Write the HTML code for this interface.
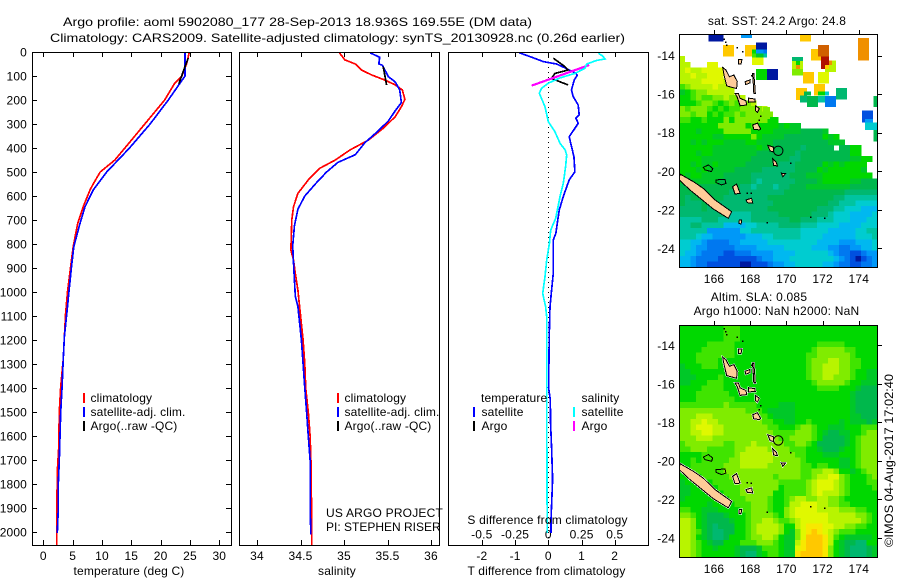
<!DOCTYPE html>
<html>
<head>
<meta charset="utf-8">
<title>Argo profile</title>
<style>
html,body{margin:0;padding:0;background:#fff;}
svg{display:block;}
text{font-family:"Liberation Sans",sans-serif;font-size:12px;fill:#000;letter-spacing:0.15px;}
.ax{fill:none;stroke:#000;stroke-width:1;shape-rendering:crispEdges;}
</style>
</head>
<body>
<svg id="chart" xmlns="http://www.w3.org/2000/svg" width="900" height="580" viewBox="0 0 900 580">
<defs>
<clipPath id="clip-map1"><rect x="679.5" y="34" width="198" height="233"/></clipPath>
<clipPath id="clip-map2"><rect x="679.5" y="325" width="198" height="232"/></clipPath>
<clipPath id="clip-p1"><rect x="32.5" y="52" width="199" height="493"/></clipPath>
<clipPath id="clip-p2"><rect x="239.5" y="52" width="200" height="493"/></clipPath>
<clipPath id="clip-p3"><rect x="448.5" y="52" width="200" height="493"/></clipPath>
</defs>

<text style="letter-spacing:0" x="63" y="26" textLength="469" lengthAdjust="spacingAndGlyphs">Argo profile: aoml 5902080_177 28-Sep-2013 18.936S 169.55E (DM data)</text>
<text style="letter-spacing:0" x="50" y="42" textLength="575" lengthAdjust="spacingAndGlyphs">Climatology: CARS2009. Satellite-adjusted climatology: synTS_20130928.nc (0.26d earlier)</text>

<g id="map1"></g>
<g id="map2"></g>
<g id="panel1"></g>
<g id="panel2"></g>
<g id="panel3"></g>

<rect class="ax" x="32.5" y="52.5" width="199" height="493"/>
<rect class="ax" x="239.5" y="52.5" width="200" height="493"/>
<rect class="ax" x="448.5" y="52.5" width="200" height="493"/>

<text x="129" y="575" text-anchor="middle">temperature (deg C)</text>
<text x="337" y="575" text-anchor="middle">salinity</text>
<text x="546.5" y="575" text-anchor="middle">T difference from climatology</text>
<text x="547.5" y="524" text-anchor="middle" style="letter-spacing:0.2px">S difference from climatology</text>

<g>
<rect x="83" y="393" width="2" height="10" fill="#f00"/>
<rect x="83" y="407" width="2" height="10" fill="#00f"/>
<rect x="83" y="421" width="2" height="10" fill="#000"/>
<text x="90.5" y="402">climatology</text>
<text x="90.5" y="416">satellite-adj. clim.</text>
<text x="90.5" y="430">Argo(..raw -QC)</text>
</g>
<g>
<rect x="337" y="393" width="2" height="10" fill="#f00"/>
<rect x="337" y="407" width="2" height="10" fill="#00f"/>
<rect x="337" y="421" width="2" height="10" fill="#000"/>
<text x="344.5" y="402">climatology</text>
<text x="344.5" y="416">satellite-adj. clim.</text>
<text x="344.5" y="430">Argo(..raw -QC)</text>
</g>
<text x="326" y="517" style="letter-spacing:0.2px">US ARGO PROJECT</text>
<text x="326" y="531" style="letter-spacing:0">PI: STEPHEN RISER</text>
<g>
<text x="481" y="402">temperature</text>
<text x="581.5" y="402">salinity</text>
<rect x="473" y="407" width="2" height="10" fill="#00f"/>
<rect x="473" y="421" width="2" height="10" fill="#000"/>
<rect x="573" y="407" width="2" height="10" fill="#0ff"/>
<rect x="573" y="421" width="2" height="10" fill="#f0f"/>
<text x="481.5" y="416">satellite</text>
<text x="481.5" y="430">Argo</text>
<text x="581.5" y="416">satellite</text>
<text x="581.5" y="430">Argo</text>
</g>

<text x="777" y="25" text-anchor="middle" style="letter-spacing:0.22px">sat. SST: 24.2 Argo: 24.8</text>
<text x="759" y="301" text-anchor="middle" style="letter-spacing:0.22px">Altim. SLA: 0.085</text>
<text x="776.5" y="315" text-anchor="middle" style="letter-spacing:0.22px">Argo h1000: NaN h2000: NaN</text>
<text style="letter-spacing:0" transform="translate(893,547) rotate(-90)" textLength="173" lengthAdjust="spacingAndGlyphs">©IMOS 04-Aug-2017 17:02:40</text>
</svg>
<script>
// ---------- profile data ----------
const tempClimDepth = [0,50,100,130,200,300,400,450,500,550,575,645,714,811,894,992,1089,1186,1283,1394,1500,1650,1750,1980,2054];
const tempClimValue = [24.9,24.4,23.6,22.4,20.7,17.3,13.9,12.2,9.7,8.5,7.96,6.8,5.86,5.1,4.67,4.16,3.8,3.6,3.4,2.96,2.73,2.62,2.39,2.28,2.28];
const tempSatDepth = [0,100,130,200,300,400,500,575,645,714,811,894,992,1089,1186,1283,1394,1500,1600,1700,1800,1900,2005];
const tempSatValue = [24.15,24.15,23.3,21.3,18.2,14.7,10.8,8.5,7.1,6.25,5.2,4.8,4.4,4.0,3.6,3.4,3.2,2.96,2.85,2.73,2.56,2.56,2.39];
const tempArgoDepth = [26,61,133];
const tempArgoValue = [24.7,24.15,23.1];

const salClimDepth = [0,5,33,50,75,96,117,137,158,197,228,269,318,367,408,450,485,533,589,645,700,825,867,922,992,1061,1200,1300,1400,1500,1600,1700,1800,1900,2054];
const salClimValue = [34.95,34.95,35.01,35.13,35.2,35.32,35.47,35.59,35.67,35.7,35.66,35.59,35.45,35.28,35.07,34.9,34.72,34.59,34.47,34.42,34.4,34.39,34.42,34.44,34.47,34.49,34.53,34.55,34.56,34.59,34.61,34.62,34.62,34.63,34.63];
const salSatDepth = [0,5,22,50,55,75,103,125,158,211,239,287,330,378,428,460,500,550,600,655,725,808,878,947,1017,1060,1200,1300,1400,1500,1600,1700,1800,1900,2010];
const salSatValue = [35.31,35.31,35.41,35.4,35.44,35.47,35.51,35.59,35.64,35.66,35.6,35.51,35.39,35.24,35.13,34.93,34.8,34.67,34.55,34.47,34.43,34.41,34.42,34.43,34.44,34.47,34.51,34.53,34.55,34.57,34.59,34.61,34.61,34.61,34.62];
const salArgoDepth = [61,137];
const salArgoValue = [35.45,35.49];

const dTSatDepth = [3,19,40,50,68,89,97,117,158,186,221,262,276,297,318,353,394,435,499,533,603,658,713,755,783,839,922,992,1061,1172,1400,1450,1550,1650,1780,1950,2005];
const dTSatValue = [-0.88,-0.55,-0.15,0.25,0.53,0.83,0.87,0.78,0.7,0.75,0.9,0.93,0.83,0.9,0.8,0.63,0.7,0.77,0.8,0.63,0.45,0.33,0.27,0.23,0.15,0.15,0.15,0.1,0.05,0.03,0.01,0.06,0.07,0.1,0.13,0.08,0.08];
const dTArgoDepth = [26,61,75,89,110,124,137];
const dTArgoValue = [0.15,0.5,0.6,0.2,0.1,0.35,0.6];
const dSSatDepth = [5,17,29,35,50,68,89,108,130,151,172,228,290,332,380,408,429,478,547,603,693,742,797,867,936,1006,1061,1103,1400,2005];
const dSSatValue = [0.376,0.41,0.426,0.364,0.289,0.276,0.2,0.088,0,-0.05,-0.068,-0.025,0,0.05,0.088,0.126,0.138,0.13,0.113,0.088,0.056,0.018,0.008,-0.012,-0.025,-0.042,-0.02,-0.012,-0.012,-0.008];
const dSArgoDepth = [54,140];
const dSArgoValue = [0.308,-0.125];

// ---------- tick labels ----------
const depthTicks = [0,100,200,300,400,500,600,700,800,900,1000,1100,1200,1300,1400,1500,1600,1700,1800,1900,2000];
const tempTicks = [0,5,10,15,20,25,30];
const salTicks = [34,34.5,35,35.5,36];
const dTTicks = [-2,-1,0,1,2];
const dSTicks = [-0.5,-0.25,0,0.25,0.5];
const lonTicks = [166,168,170,172,174];
const latTicks = [14,16,18,20,22,24];

// ---------- map data ----------
const sstPalette = {"0":"#0018a0","1":"#0050e0","2":"#0078f0","3":"#0098f8","4":"#00b8f0","5":"#00ccd0","6":"#00c4a0","7":"#00b870","8":"#00b84c","9":"#00c828","A":"#00d800","B":"#40e400","C":"#80ec00","D":"#b8f400","E":"#e0f800","F":"#f8e800","G":"#ffc800","H":"#f09000","I":"#d06000","J":"#b01000"};
const sstGrid = [
"","","","",
"D",
"DD...EE",
"DEDDEEEE",
"DDEDDEEE",
"DDDDEEEED",
"BCDDDDEDDD",
"9ABCCDDDDD",
"AABCBBCCDCCD",
"AAABCCBABCBCCD",
"CBCCCBABABBCCCCD",
"CCBCCABABBCBCCCCC",
"BBAABAAACACCCCCCAA",
"AAAAAAACCCCCABAAAA9A99",
"AAA9AAAACCCCCAAAA9999988889",
"AAAAAA99AAAAACA99998888888A9A",
"AA9A9AAA9999AA9998888888888999",
"AAAAAA99999999A9988888788888.88AA",
"AAA9AA9999999988888887888888888AA",
"AAAA99999999988888887788888888899AA",
"AA9A99A9999988888877788888A9A9AAAA",
"AAA9A99999888887777778888A9AAAAAA9",
"A9AA9999888887777777888999AAAAAAAAA",
"99999998888887677777788889AAAAA99888",
"889888888887767776778889999999988888",
"888888888777777777788888888888777777",
"878888887777777788888888888877666666",
"877787877777777778888888888776665555",
"777787777777777788888888877766555444",
"777777777666677777888888777655544445",
"666677766666677777778877766655544455",
"667766664444556666777766655554444555",
"666663333335566666666655555444445566",
"666544333333444556666655554444445556",
"554432222334444455555555544443334445",
"554332222233334444455555444332233445",
"544322221122233334444555555432211233",
"443222211111112334445555555543210123",
"443221111110011123344555554432211223"
];
// isolated SST retrievals: west lon, north lat, east lon, south lat, colour class
const sstPatches = [
[165.69,12.88,166.52,13.27,"0"],[167.49,12.88,168.10,13.07,"3"],[166.50,13.45,167.10,14.05,"G"],[167.71,13.45,168.32,14.05,"G"],
[168.32,13.31,168.93,13.67,"0"],[168.10,13.67,168.32,13.88,"A"],[168.32,13.67,168.73,13.88,"3"],[168.73,13.67,168.93,13.88,"2"],
[168.10,13.88,168.32,14.09,"B"],[168.32,13.88,168.73,14.09,"9"],[168.73,13.88,168.93,14.09,"6"],[168.10,14.09,168.73,14.48,"E"],
[168.32,14.69,168.93,15.26,"A"],[168.93,14.69,169.54,15.26,"0"],
[170.31,14.07,170.92,14.28,"7"],[170.31,14.28,170.53,14.69,"D"],[170.53,14.28,170.75,14.48,"A"],[170.75,14.28,170.92,14.69,"D"],[170.53,14.48,170.75,14.69,"H"],[170.31,14.69,170.92,15.04,"C"],
[170.92,14.85,171.52,15.45,"G"],[171.75,14.85,172.35,15.45,"E"],[170.75,12.88,171.36,13.27,"G"],[171.36,13.65,171.97,14.26,"G"],[171.75,13.45,172.35,14.05,"I"],
[172.13,14.26,172.74,14.85,"D"],[171.91,14.05,172.35,14.48,"J"],[171.91,14.48,172.13,14.69,"J"],[172.35,14.26,172.52,14.48,"H"],[172.13,14.48,172.35,14.69,"G"],
[173.96,13.08,174.56,14.26,"H"],[170.53,15.68,171.14,16.30,"G"],[170.75,16.06,171.14,16.44,"7"],[171.14,16.08,171.75,16.65,"8"],[170.97,15.87,171.36,16.08,"8"],
[171.52,15.47,172.13,16.08,"G"],[171.75,15.87,172.13,16.08,"A"],[171.75,16.08,172.13,16.44,"6"],[172.13,16.08,172.74,16.65,"2"],[172.13,15.87,172.35,16.08,"5"],
[172.74,15.68,173.35,16.27,"7"],[174.80,16.08,175.02,16.65,"8"],[174.18,16.85,174.78,17.48,"1"],[174.34,17.29,174.78,17.48,"3"],[174.34,17.48,175.02,17.86,"5"],[174.80,17.86,175.02,18.46,"8"],
[168.71,16.66,169.09,17.29,"C"]
];
const slaGrid = [
"AAAAAAAABBBAAAAAAAAAAAAAAAAAAAAAAAAA",
"AAAAAAAABBBAAAAAAAAAAAAAAAAAAAAAAAAA",
"AAAAAAAABBBAAAAAAAAAAAAAAAAAAAAAAAAA",
"AAAAABBBBBAAAAAAAAAAAAAAABBBBBAAAAAA",
"AAAABBBBBBAAAAAAAAAAAAAABCCCCCBBAAAA",
"AAABBBBBBBAAAAAAAAAAAAABBCCCCCCBAAAA",
"AAABBBBAAAAAAAAAAAAAAAABCCCDDCCBBAAA",
"9AAABBBAAAAAAAAAAAAAAAABCCDDDCCBBAAA",
"99AAAAAAAAAAAAAAAAAAAAABCCDDDCCBAA99",
"999AAAABAAAAAAAAAAAAAAABCCDDCCCBAA99",
"99AAABBBAAAAAAAAAAAAAAAABCCCCCBAA999",
"AAAABBBBAAAAAAAAAAAAAAAAABBBBAAA9888",
"AAABBBBBBAAAAAAAAAAAAAAAAAAAAAA98888",
"AAABBBBBBBAAAAAAAAAAAAAAAAAAAAA98888",
"BBBBBBBBCBBBBBAAAA999AAAAAAAAAA98888",
"CCCCCCCCCCCCBBBA99999AAAAAAAAAA98888",
"CCCDDDCCCCCCCCBBA9999AAAAAAAAAA99888",
"CCDDEDDCCCCCCCCBBAA99AABAAAAA9A99989",
"CCDEEEDDCCCCCCCCBBAAABCCBAA999AAABBB",
"CCDDEEDDCCCCCCCCCBBBBCCCBA98899AABCC",
"CCCDDDCCCCCCCCCCCCBBCCCCBA88889ABCCC",
"BCCCCCCCBBCCCDCCCCCBBCCBA888889ABCCC",
"BBCCCBBBBBCCDDDDCCCCBBBAA98889AABCCC",
"AAAABBBBBBCDDDDDDCCCCBBAAA999AAABCCC",
"AABABBBBBCCDDDDDDCCCCCBAAAAAA99ABCCC",
"AABBBBBBCCCDDDDDCCCCCCBBABBAA99ABCCC",
"AABBBBBBCCCCCCCCCCCCCCBBCCDDCAA9ABCC",
"AAAABBBBBCCCCCCCCBCCCCBBCDDEECBAAABC",
"9AAAAABBBBCCCCCCCCBBBBBCDEEEDCBAAABB",
"99AAAAABBBBCCCCCCCABBBBCDEEEDCBAAAAB",
"99AAAAAABBBCCCCCCAABBBBCDEDDDCBAAAAA",
"9AAAAAAAABBBCCCCBAABCDDCCDDCCBAAAAAA",
"AAAAA9AAAABBBCCCBAABDDEEEDDCCBBAAAAA",
"BBAA999AAAABBCCCBAACDEEEEDDDDCCCBBAA",
"CCBA98889AAABCCCCBACDEEEEEEDDDDDCCBA",
"DDCA988889AABCCDDCBBCDEEEEEDDDDDDCBA",
"DDCA987888AABCDDDDCAADEFFFEEDDCCBBAA",
"DDCB987788AABCDDDDCA9CEFGFEDCBBBAAAA",
"DDCA98778AAABCCDDCA99CEGGGFDBA99999A",
"DDCBA988AAABBBCCCBA99DFGGGFDA98877AA",
"DDCBAA9AAA98889BBBA99EFGGGFCA9877789",
"DDCBAAAAAA98779ABBA99FGGGGFCA9877789"
];
const islandsFilled = [
[[164.12,20.14],[164.08,20.45],[164.67,20.97],[165.23,21.40],[165.96,21.96],[166.79,22.44],[166.98,22.10],[166.70,21.92],[166.06,21.49],[165.41,20.89],[164.86,20.54]],
[[166.48,14.61],[166.55,15.00],[166.70,15.57],[167.25,15.71],[167.29,15.35],[167.10,15.00],[166.85,15.09],[166.66,14.74]],
[[167.16,15.95],[167.34,15.95],[167.44,16.21],[167.77,16.34],[167.80,16.56],[167.44,16.60],[167.29,16.16]],
[[167.90,16.20],[168.26,16.25],[168.28,16.40],[167.90,16.42]],
[[168.12,14.92],[168.20,14.92],[168.26,15.60],[168.28,15.95],[168.20,15.95],[168.16,15.30]],
[[168.14,17.60],[168.40,17.50],[168.58,17.80],[168.50,17.85],[168.20,17.82]],
[[167.72,15.35],[168.00,15.25],[167.98,15.42],[167.75,15.50]],
[[167.34,14.20],[167.54,14.20],[167.50,14.42],[167.36,14.42]],
[[168.97,18.65],[169.30,18.75],[169.30,19.00],[169.10,18.95]],
[[169.24,19.35],[169.45,19.55],[169.50,19.72],[169.30,19.70]],
[[169.72,20.10],[169.95,20.12],[169.80,20.28]],
[[167.03,20.80],[167.25,20.66],[167.44,21.15],[167.16,21.18]],
[[167.77,21.49],[168.08,21.40],[168.14,21.66],[167.84,21.63]],
[[167.40,22.53],[167.53,22.53],[167.50,22.74],[167.38,22.72]],
[[168.30,16.60],[168.50,16.75],[168.40,16.95],[168.28,16.85]]
];
const reefsOutline = [
[[165.41,19.80],[165.69,19.67],[165.93,19.85],[165.87,20.02],[165.50,19.93]],
[[166.11,20.45],[166.61,20.42],[166.66,20.63],[166.42,20.71],[166.11,20.59]]
];
const smallIslets = [[166.52,13.10],[166.60,13.25],[166.66,13.41],[167.25,13.55],[167.55,13.75],[170.2,19.54],[168.91,22.63],[171.3,22.34],[172.08,22.41],[168.03,21.11],[167.8,21.1],[168.55,17.1],[168.45,17.3],[168.05,15.0],[168.1,14.9]];
const argoLon = [169.55];
const argoLat = [18.936];

// ---------- helpers ----------
const NS = 'http://www.w3.org/2000/svg';
function mk(parent, tag, attrs, txt) {
  const e = document.createElementNS(NS, tag);
  for (const k in attrs) e.setAttribute(k, attrs[k]);
  if (txt !== undefined) e.textContent = txt;
  parent.appendChild(e);
  return e;
}
// axis functions
const yDepth = d => 52 + d * 0.24;
const xTemp = t => 43.3 + t * 5.867;
const xSal = s => 257 + (s - 34) * 87;
const xDT = t => 548.3 + t * 33.2;
const xDS = s => 548.3 + s * 133;
const xLon = l => 714 + (l - 166) * 18.1;
const yLat1 = l => 55.7 + (l - 14) * 19.26;
const yLat2 = l => 345.3 + (l - 14) * 19.27;

function seriesPoints(xf, vals, depths) {
  return vals.map((v, i) => xf(v).toFixed(1) + ',' + yDepth(depths[i]).toFixed(1)).join(' ');
}

function drawSeries(g, name, xf, vals, depths, color, width, clip) {
  const s = mk(g, 'polyline', {points: seriesPoints(xf, vals, depths), fill: 'none', stroke: color, 'stroke-width': width, 'shape-rendering': 'crispEdges', 'clip-path': 'url(#' + clip + ')'});
  
  
}

function topBottomTicks(g, ticks, xf, prefix, labelY, fmt) {
  ticks.forEach(t => {
    const x = Math.round(xf(t)) + 0.5;
    const a = mk(g, 'line', {class: 'ax', x1: x, x2: x, y1: 52, y2: 57});
    
    
    const b = mk(g, 'line', {class: 'ax', x1: x, x2: x, y1: 540, y2: 545});
    
    
    const l = mk(g, 'text', {x: xf(t), y: labelY, 'text-anchor': 'middle'}, fmt ? fmt(t) : String(t));
    
    
  });
}

// ---------- panels ----------
const p1 = document.getElementById('panel1');
depthTicks.forEach(d => {
  const y = Math.round(yDepth(d)) + 0.5;
  const a = mk(p1, 'line', {class: 'ax', x1: 32, x2: 37, y1: y, y2: y});
  
  
  const b = mk(p1, 'line', {class: 'ax', x1: 226, x2: 231, y1: y, y2: y});
  
  
  const l = mk(p1, 'text', {x: 27, y: yDepth(d) + 4.5, 'text-anchor': 'end'}, String(d));
  
  
});
topBottomTicks(p1, tempTicks, xTemp, 'temperature', 560);
drawSeries(p1, 'temperature-climatology-line', xTemp, tempClimValue, tempClimDepth, '#f00', 1.7, 'clip-p1');
drawSeries(p1, 'temperature-satellite-line', xTemp, tempSatValue, tempSatDepth, '#00f', 1.7, 'clip-p1');
drawSeries(p1, 'temperature-argo-line', xTemp, tempArgoValue, tempArgoDepth, '#000', 1.7, 'clip-p1');

const p2 = document.getElementById('panel2');
topBottomTicks(p2, salTicks, xSal, 'salinity', 560);
drawSeries(p2, 'salinity-climatology-line', xSal, salClimValue, salClimDepth, '#f00', 1.7, 'clip-p2');
drawSeries(p2, 'salinity-satellite-line', xSal, salSatValue, salSatDepth, '#00f', 1.7, 'clip-p2');
drawSeries(p2, 'salinity-argo-line', xSal, salArgoValue, salArgoDepth, '#000', 1.7, 'clip-p2');

const p3 = document.getElementById('panel3');
topBottomTicks(p3, dTTicks, xDT, 't-difference', 560);
dSTicks.forEach(t => {
  const l = mk(p3, 'text', {x: xDS(t), y: 538.5, 'text-anchor': 'middle'}, String(t));
  
  
});
const zero = mk(p3, 'line', {x1: 548.5, x2: 548.5, y1: 52, y2: 545, stroke: '#000', 'stroke-width': 1, 'stroke-dasharray': '1 4', 'shape-rendering': 'crispEdges'});


drawSeries(p3, 't-difference-satellite-line', xDT, dTSatValue, dTSatDepth, '#00f', 1.7, 'clip-p3');
drawSeries(p3, 't-difference-argo-line', xDT, dTArgoValue, dTArgoDepth, '#000', 1.7, 'clip-p3');
drawSeries(p3, 's-difference-argo-line', xDS, dSArgoValue, dSArgoDepth, '#f0f', 2.2, 'clip-p3');
drawSeries(p3, 's-difference-satellite-line', xDS, dSSatValue, dSSatDepth, '#0ff', 1.7, 'clip-p3');

// ---------- maps ----------
function drawGrid(g, grid, lonW, latN, dLon, dLat, yLat, name) {
  grid.forEach((row, r) => {
    for (let c = 0; c < row.length; c++) {
      const k = row[c];
      if (k === '.') continue;
      const x0 = xLon(lonW + c * dLon), x1 = xLon(lonW + (c + 1) * dLon);
      const y0 = yLat(latN + r * dLat), y1 = yLat(latN + (r + 1) * dLat);
      const cell = mk(g, 'rect', {x: x0.toFixed(1), y: y0.toFixed(1), width: (x1 - x0 + 0.4).toFixed(1), height: (y1 - y0 + 0.4).toFixed(1), fill: sstPalette[k], 'shape-rendering': 'crispEdges'});
      
      
    }
  });
}

function polyPoints(poly, yLat) {
  return poly.map(p => xLon(p[0]).toFixed(1) + ',' + yLat(p[1]).toFixed(1)).join(' ');
}

function drawCoast(g, yLat, halo) {
  islandsFilled.forEach(poly => {
    if (halo) {
      const h = mk(g, 'polygon', {points: polyPoints(poly, yLat), fill: '#fff', stroke: '#fff', 'stroke-width': 2, 'shape-rendering': 'crispEdges'});
      
      
    }
    const i = mk(g, 'polygon', {points: polyPoints(poly, yLat), fill: '#ffcc99', stroke: '#000', 'stroke-width': 1, 'shape-rendering': 'crispEdges'});
    
    
  });
  reefsOutline.forEach(poly => {
    const i = mk(g, 'polygon', {points: polyPoints(poly, yLat), fill: 'none', stroke: '#000', 'stroke-width': 1, 'shape-rendering': 'crispEdges'});
    
    
  });
  smallIslets.forEach(p => {
    const i = mk(g, 'rect', {x: xLon(p[0]).toFixed(1), y: yLat(p[1]).toFixed(1), width: 1.5, height: 1.5, fill: '#000', 'shape-rendering': 'crispEdges'});
    
    
  });
  argoLon.forEach((lon, i) => {
    const c = mk(g, 'circle', {cx: xLon(lon), cy: yLat(argoLat[i]), r: 4.7, fill: 'none', stroke: '#000', 'stroke-width': 1});
    
    
  });
}

function mapFrame(g, yLat, top, bottom, labelY, prefix) {
  const f = mk(g, 'rect', {class: 'ax', x: 679.5, y: top + 0.5, width: 198, height: bottom - top});
  
  
  lonTicks.forEach(l => {
    const x = Math.round(xLon(l)) + 0.5;
    const t = mk(g, 'line', {class: 'ax', x1: x, x2: x, y1: top - 4, y2: top});
    
    
    const lab = mk(g, 'text', {x: xLon(l), y: labelY, 'text-anchor': 'middle'}, String(l));
    
    
  });
  latTicks.forEach(l => {
    const y = Math.round(yLat(l)) + 0.5;
    const t = mk(g, 'line', {class: 'ax', x1: 878, x2: 882, y1: y, y2: y});
    
    
    const lab = mk(g, 'text', {x: 675, y: yLat(l) + 4.5, 'text-anchor': 'end'}, '-' + l);
    
    
  });
}

const m1 = document.getElementById('map1');
const m1c = mk(m1, 'g', {'clip-path': 'url(#clip-map1)'});


drawGrid(m1c, sstGrid, 164.085, 12.875, 0.3039, 0.288, yLat1, 'sst-cell');
sstPatches.forEach(p => {
  const x0 = xLon(p[0]), x1 = xLon(p[2]), y0 = yLat1(p[1]), y1 = yLat1(p[3]);
  const cell = mk(m1c, 'rect', {x: x0.toFixed(1), y: y0.toFixed(1), width: (x1 - x0).toFixed(1), height: (y1 - y0).toFixed(1), fill: sstPalette[p[4]], 'shape-rendering': 'crispEdges'});
  
  
});
drawCoast(m1c, yLat1, false);
mapFrame(m1, yLat1, 34, 267, 283, 'sst-map');

const m2 = document.getElementById('map2');
const m2c = mk(m2, 'g', {'clip-path': 'url(#clip-map2)'});


drawGrid(m2c, slaGrid, 164.085, 12.947, 0.3039, 0.2863, yLat2, 'sla-cell');
drawCoast(m2c, yLat2, true);
mapFrame(m2, yLat2, 325, 557, 573, 'sla-map');
</script>
</body>
</html>
